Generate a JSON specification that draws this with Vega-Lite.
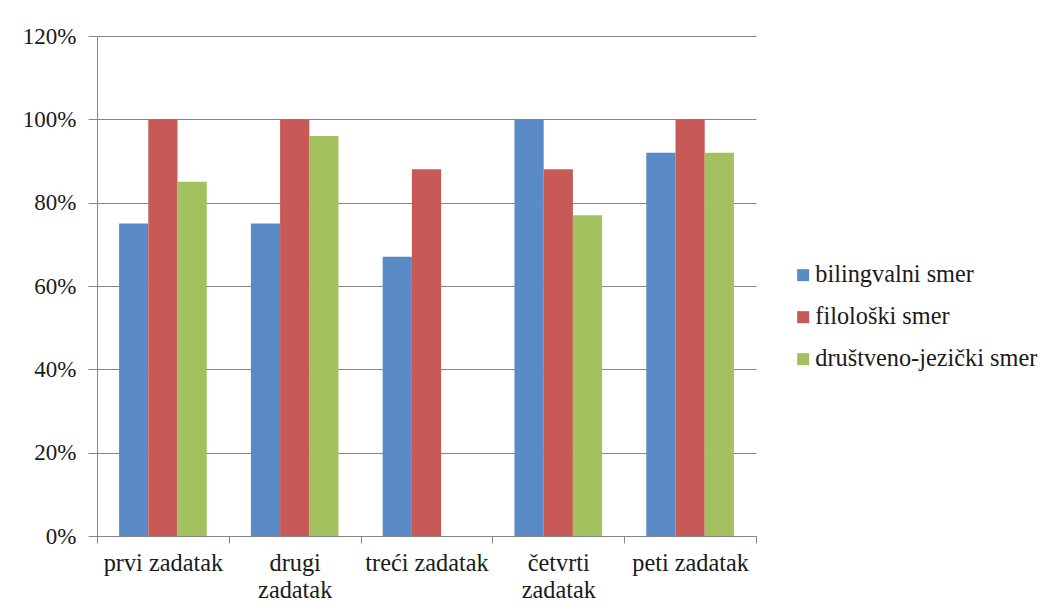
{
  "$schema": "https://vega.github.io/schema/vega-lite/v6.json",
  "width": 659,
  "height": 500,
  "autosize": {"type": "none"},
  "padding": {"left": 97, "top": 36, "right": 284, "bottom": 74},
  "background": "white",
  "config": {
    "view": {"stroke": null},
    "font": "Liberation Serif"
  },
  "data": {
    "values": [
      {"zadatak": "prvi zadatak", "smer": "bilingvalni smer", "value": 0.75},
      {"zadatak": "prvi zadatak", "smer": "filološki smer", "value": 1.0},
      {"zadatak": "prvi zadatak", "smer": "društveno-jezički smer", "value": 0.85},
      {"zadatak": "drugi zadatak", "smer": "bilingvalni smer", "value": 0.75},
      {"zadatak": "drugi zadatak", "smer": "filološki smer", "value": 1.0},
      {"zadatak": "drugi zadatak", "smer": "društveno-jezički smer", "value": 0.96},
      {"zadatak": "treći zadatak", "smer": "bilingvalni smer", "value": 0.67},
      {"zadatak": "treći zadatak", "smer": "filološki smer", "value": 0.88},
      {"zadatak": "četvrti zadatak", "smer": "bilingvalni smer", "value": 1.0},
      {"zadatak": "četvrti zadatak", "smer": "filološki smer", "value": 0.88},
      {"zadatak": "četvrti zadatak", "smer": "društveno-jezički smer", "value": 0.77},
      {"zadatak": "peti zadatak", "smer": "bilingvalni smer", "value": 0.92},
      {"zadatak": "peti zadatak", "smer": "filološki smer", "value": 1.0},
      {"zadatak": "peti zadatak", "smer": "društveno-jezički smer", "value": 0.92}
    ]
  },
  "mark": {"type": "bar"},
  "encoding": {
    "x": {
      "field": "zadatak",
      "type": "nominal",
      "sort": null,
      "scale": {"paddingInner": 0, "paddingOuter": 0},
      "axis": {
        "title": null,
        "labelAngle": 0,
        "labelFont": "Liberation Serif",
        "labelFontSize": 24.3,
        "labelColor": "#1a1a1a",
        "labelPadding": 8,
        "labelLineHeight": 27,
        "labelExpr": "datum.value == 'drugi zadatak' || datum.value == 'četvrti zadatak' ? split(datum.value, ' ') : datum.value",
        "tickBand": "extent",
        "tickSize": 7,
        "tickColor": "#868686",
        "domainColor": "#868686",
        "grid": false
      }
    },
    "xOffset": {
      "field": "smer",
      "type": "nominal",
      "sort": ["bilingvalni smer", "filološki smer", "društveno-jezički smer"],
      "scale": {"domain": ["bilingvalni smer", "filološki smer", "društveno-jezički smer"], "paddingOuter": 0.756, "paddingInner": 0}
    },
    "y": {
      "field": "value",
      "type": "quantitative",
      "scale": {"domain": [0, 1.2], "nice": false},
      "axis": {
        "title": null,
        "values": [0, 0.2, 0.4, 0.6, 0.8, 1.0, 1.2],
        "format": ".0%",
        "labelFont": "Liberation Serif",
        "labelFontSize": 23,
        "labelColor": "#1a1a1a",
        "labelPadding": 12,
        "tickSize": 9,
        "tickColor": "#868686",
        "domainColor": "#868686",
        "gridColor": "#868686",
        "grid": true
      }
    },
    "color": {
      "field": "smer",
      "type": "nominal",
      "sort": ["bilingvalni smer", "filološki smer", "društveno-jezički smer"],
      "scale": {
        "domain": ["bilingvalni smer", "filološki smer", "društveno-jezički smer"],
        "range": ["#5B8BC6", "#C75A57", "#A3C25F"]
      },
      "legend": {
        "title": null,
        "orient": "none",
        "legendX": 694,
        "legendY": 227,
        "symbolType": "square",
        "symbolSize": 144,
        "symbolStrokeWidth": 0,
        "symbolOpacity": 1,
        "labelFont": "Liberation Serif",
        "labelFontSize": 24.3,
        "labelColor": "#1a1a1a",
        "labelOffset": 0,
        "rowPadding": 17,
        "labelLimit": 300
      }
    }
  }
}
